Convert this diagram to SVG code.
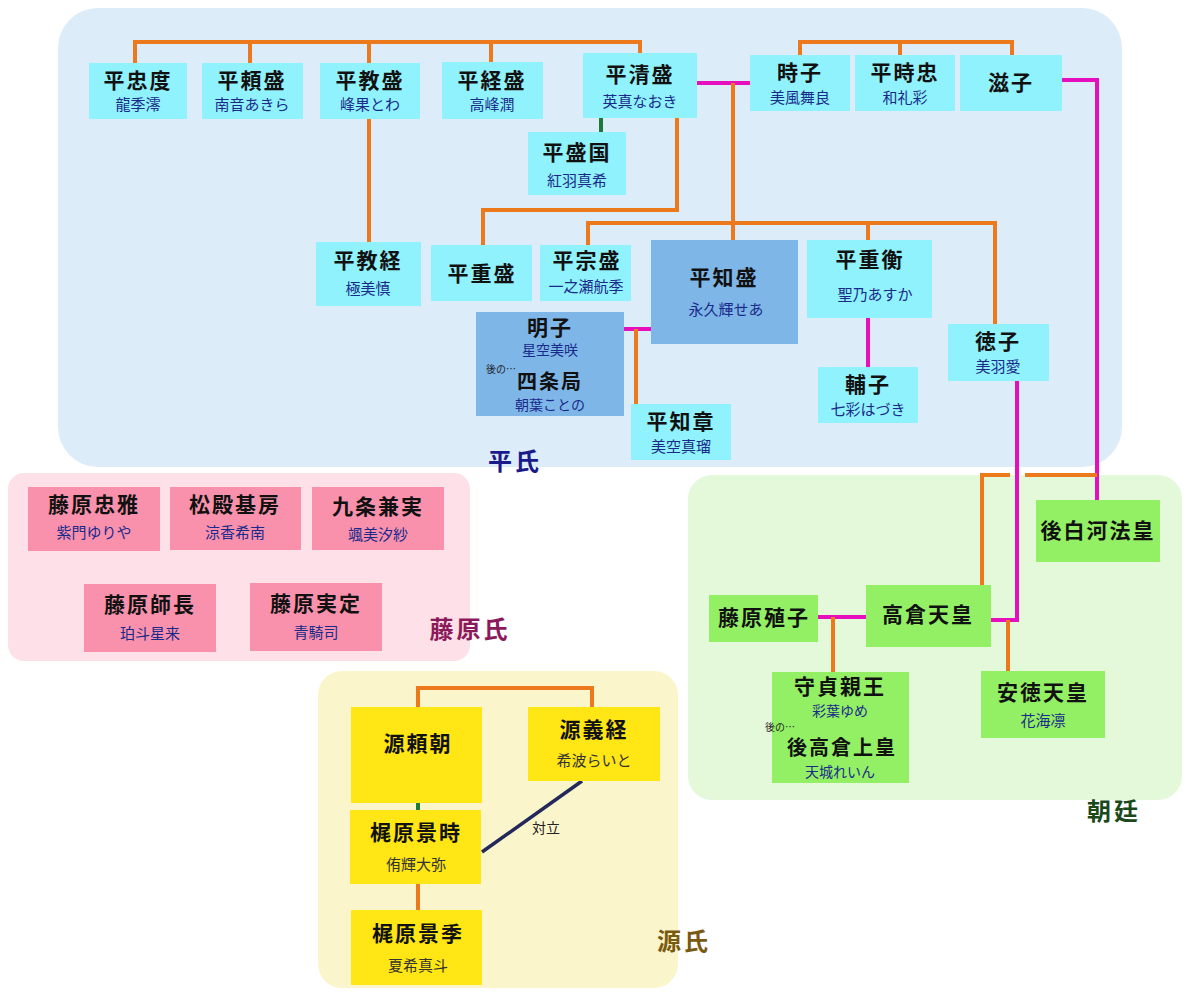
<svg xmlns="http://www.w3.org/2000/svg" width="1200" height="1000" viewBox="0 0 1200 1000">
<style>
.n{font-family:"Noto Sans CJK JP",sans-serif;font-weight:bold;font-size:21px;fill:#111;text-anchor:middle;letter-spacing:2px}
.s{font-family:"Noto Sans CJK JP",sans-serif;font-size:15px;fill:#1a2a8a;text-anchor:middle}
.t{font-family:"Noto Sans CJK JP",sans-serif;font-size:10px;fill:#222}
.g{font-family:"Noto Sans CJK JP",sans-serif;font-weight:bold;font-size:24px;text-anchor:middle;letter-spacing:3px}
.c{fill:#8ff2fc}.d{fill:#7eb6e8}.p{fill:#f991ad}.y{fill:#ffe614}.v{fill:#93f064}
.o{stroke:#ec7a1c;stroke-width:4;fill:none}.m{stroke:#e60fbe;stroke-width:4;fill:none}.gr{stroke:#1a7a3a;stroke-width:4;fill:none}
</style>
<rect width="1200" height="1000" fill="#fff"/>
<g id="regions">
<rect x="58" y="8" width="1064" height="459" rx="40" fill="#dcecf9"/>
<rect x="8" y="473" width="462" height="188" rx="16" fill="#fde0e8"/>
<rect x="318" y="671" width="360" height="317" rx="24" fill="#fbf5cc"/>
<rect x="688" y="475" width="494" height="325" rx="24" fill="#e4f8da"/>
<text class="g" x="515" y="470" fill="#1a1a8a">平氏</text>
<text class="g" x="470" y="638" fill="#8b1a5a">藤原氏</text>
<text class="g" x="684" y="950" fill="#7a5a10">源氏</text>
<text class="g" x="1114" y="820" fill="#1a4a1a">朝廷</text>
</g>
<g id="connectors">
<path class="o" d="M135 63V42H640V53M250 42V63M369 42V63M491 42V63"/>
<path class="o" d="M369 119V242"/>
<path class="o" d="M800 55V42H1012V55M900 42V55"/>
<path class="gr" d="M601 118V132"/>
<path class="o" d="M677 118V210H483V245"/>
<path class="m" d="M697 83H750"/>
<path class="o" d="M733 83V223M588 245V223H995V324M733 223V240M868 223V240"/>
<path class="m" d="M624 329H651"/>
<path class="o" d="M636 329V404"/>
<path class="m" d="M868 318V367"/>
<path class="m" d="M1017 381V620H990"/>
<path class="m" d="M1062 80H1097V500"/>
<path class="o" d="M982 585V475H1010M1025 475H1097"/>
<path class="m" d="M818 617H866"/>
<path class="o" d="M833 617V672M1008 620V671"/>
<path class="o" d="M418 707V688H592V707"/>
<path class="gr" d="M418 803V810"/>
<path class="o" d="M418 884V910"/>
<path d="M482 852L582 781" stroke="#22285a" stroke-width="3.5" fill="none"/>
<text class="t" x="532" y="833" style="font-size:14px">対立</text>
</g>
<g id="n1"><rect class="c" x="89" y="63" width="98" height="56"/><text class="n" x="138" y="88">平忠度</text><text class="s" x="138" y="110">龍季澪</text></g>
<g id="n2"><rect class="c" x="202" y="63" width="101" height="56"/><text class="n" x="252" y="88">平頼盛</text><text class="s" x="252" y="110">南音あきら</text></g>
<g id="n3"><rect class="c" x="320" y="63" width="100" height="56"/><text class="n" x="370" y="88">平教盛</text><text class="s" x="370" y="110">峰果とわ</text></g>
<g id="n4"><rect class="c" x="442" y="62" width="101" height="57"/><text class="n" x="492" y="88">平経盛</text><text class="s" x="492" y="110">高峰潤</text></g>
<g id="n5"><rect class="c" x="583" y="53" width="114" height="65"/><text class="n" x="640" y="82">平清盛</text><text class="s" x="640" y="107">英真なおき</text></g>
<g id="n6"><rect class="c" x="528" y="132" width="98" height="63"/><text class="n" x="577" y="160">平盛国</text><text class="s" x="577" y="186">紅羽真希</text></g>
<g id="n7"><rect class="c" x="750" y="55" width="100" height="56"/><text class="n" x="800" y="80">時子</text><text class="s" x="800" y="103">美風舞良</text></g>
<g id="n8"><rect class="c" x="855" y="55" width="100" height="56"/><text class="n" x="905" y="80">平時忠</text><text class="s" x="905" y="103">和礼彩</text></g>
<g id="n9"><rect class="c" x="960" y="55" width="102" height="56"/><text class="n" x="1011" y="90">滋子</text></g>
<g id="n10"><rect class="c" x="316" y="242" width="105" height="64"/><text class="n" x="368" y="268">平教経</text><text class="s" x="368" y="294">極美慎</text></g>
<g id="n11"><rect class="c" x="431" y="245" width="101" height="56"/><text class="n" x="482" y="281">平重盛</text></g>
<g id="n12"><rect class="c" x="540" y="245" width="91" height="56"/><text class="n" x="587" y="268">平宗盛</text><text class="s" x="586" y="292">一之瀬航季</text></g>
<g id="n13"><rect class="d" x="651" y="240" width="147" height="104"/><text class="n" x="724" y="285">平知盛</text><text class="s" x="726" y="315">永久輝せあ</text></g>
<g id="n14"><rect class="c" x="807" y="240" width="125" height="78"/><text class="n" x="870" y="267">平重衡</text><text class="s" x="875" y="300">聖乃あすか</text></g>
<g id="n15"><rect class="d" x="476" y="312" width="148" height="104"/><text class="n" x="550" y="335">明子</text><text class="s" x="550" y="355" style="font-size:14px">星空美咲</text><text class="t" x="486" y="373">後の…</text><text class="n" x="550" y="389" style="font-size:20px">四条局</text><text class="s" x="550" y="410" style="font-size:14px">朝葉ことの</text></g>
<g id="n16"><rect class="c" x="631" y="404" width="100" height="56"/><text class="n" x="681" y="429">平知章</text><text class="s" x="681" y="452">美空真瑠</text></g>
<g id="n17"><rect class="c" x="818" y="367" width="100" height="56"/><text class="n" x="868" y="392">輔子</text><text class="s" x="868" y="415">七彩はづき</text></g>
<g id="n18"><rect class="c" x="948" y="324" width="101" height="57"/><text class="n" x="998" y="349">徳子</text><text class="s" x="998" y="372">美羽愛</text></g>
<g id="f1"><rect class="p" x="28" y="487" width="132" height="64"/><text class="n" x="94" y="512">藤原忠雅</text><text class="s" x="94" y="538">紫門ゆりや</text></g>
<g id="f2"><rect class="p" x="170" y="487" width="131" height="63"/><text class="n" x="235" y="512">松殿基房</text><text class="s" x="235" y="538">涼香希南</text></g>
<g id="f3"><rect class="p" x="312" y="487" width="132" height="63"/><text class="n" x="378" y="514">九条兼実</text><text class="s" x="378" y="540">颯美汐紗</text></g>
<g id="f4"><rect class="p" x="84" y="584" width="132" height="68"/><text class="n" x="150" y="612">藤原師長</text><text class="s" x="150" y="639">珀斗星来</text></g>
<g id="f5"><rect class="p" x="250" y="583" width="132" height="68"/><text class="n" x="316" y="611">藤原実定</text><text class="s" x="316" y="638">青騎司</text></g>
<g id="y1"><rect class="y" x="351" y="707" width="131" height="96"/><text class="n" x="418" y="751">源頼朝</text></g>
<g id="y2"><rect class="y" x="528" y="707" width="132" height="74"/><text class="n" x="594" y="737">源義経</text><text class="s" x="594" y="766" style="fill:#333">希波らいと</text></g>
<g id="y3"><rect class="y" x="350" y="810" width="131" height="74"/><text class="n" x="416" y="840">梶原景時</text><text class="s" x="416" y="870" style="fill:#333">侑輝大弥</text></g>
<g id="y4"><rect class="y" x="351" y="910" width="131" height="75"/><text class="n" x="418" y="941">梶原景季</text><text class="s" x="418" y="971" style="fill:#333">夏希真斗</text></g>
<g id="k1"><rect class="v" x="1036" y="500" width="124" height="62"/><text class="n" x="1098" y="538">後白河法皇</text></g>
<g id="k2"><rect class="v" x="709" y="595" width="109" height="47"/><text class="n" x="764" y="625">藤原殖子</text></g>
<g id="k3"><rect class="v" x="866" y="585" width="125" height="62"/><text class="n" x="928" y="622">高倉天皇</text></g>
<g id="k4"><rect class="v" x="772" y="672" width="137" height="111"/><text class="n" x="840" y="694">守貞親王</text><text class="s" x="840" y="716" style="font-size:14px">彩葉ゆめ</text><text class="t" x="765" y="731">後の…</text><text class="n" x="842" y="755" style="font-size:20px">後高倉上皇</text><text class="s" x="840" y="777" style="font-size:14px">天城れいん</text></g>
<g id="k5"><rect class="v" x="981" y="671" width="124" height="67"/><text class="n" x="1043" y="700">安徳天皇</text><text class="s" x="1043" y="726">花海凛</text></g>
</svg>
